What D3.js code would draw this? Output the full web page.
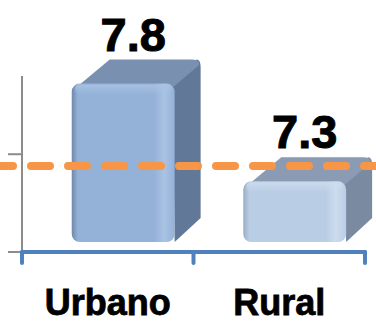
<!DOCTYPE html>
<html>
<head>
<meta charset="utf-8">
<script src="https://cdn.jsdelivr.net/npm/d3@7/dist/d3.min.js"></script>
<style>
  body { margin: 0; background: #fff; }
  svg { display: block; }
</style>
</head>
<body>
<div id="chart"></div>
<script>
// data
var categories = ["Urbano", "Rural"];
var values = [7.8, 7.3];
var valueLabels = ["7.8", "7.3"];
var referenceValue = 7.44;   // dashed orange line
var yTicks = [7.0, 7.5];

var width = 376, height = 323;

var svg = d3.select("#chart").append("svg")
    .attr("width", width)
    .attr("height", height);

// scales
var x = d3.scaleBand()
    .domain(categories)
    .range([22, 365])
    .padding(0);

var y = d3.scaleLinear()
    .domain([7.0, 7.9])
    .range([252, 76]);

var depthX = 26, depthY = 24;
var barStart = 0.29, barWidth = 0.6;

// colours per bar: front, frontDark, top, side
var palette = [
    {front: "#94b1d7", dark: "#6f88aa", light: "#a9c3e4", top: "#7990b1", side: "#627898"},
    {front: "#b9cde5", dark: "#9aaec8", light: "#cddcee", top: "#8a9bb3", side: "#7a8aa1"}
];

var defs = svg.append("defs");
palette.forEach(function(p, i) {
    var g = defs.append("linearGradient")
        .attr("id", "front" + i)
        .attr("x1", 0).attr("x2", 1).attr("y1", 0).attr("y2", 0);
    g.append("stop").attr("offset", "0%").attr("stop-color", p.dark);
    g.append("stop").attr("offset", "6%").attr("stop-color", p.front);
    g.append("stop").attr("offset", "80%").attr("stop-color", p.front);
    g.append("stop").attr("offset", "90%").attr("stop-color", p.light);
    g.append("stop").attr("offset", "100%").attr("stop-color", p.front);

    var t = defs.append("linearGradient")
        .attr("id", "bevel" + i)
        .attr("x1", 0).attr("x2", 0).attr("y1", 0).attr("y2", 1);
    t.append("stop").attr("offset", "0%").attr("stop-color", p.light).attr("stop-opacity", 0.9);
    t.append("stop").attr("offset", "100%").attr("stop-color", p.light).attr("stop-opacity", 0);
});

// y axis (gray, no labels)
svg.append("line")
    .attr("x1", 22).attr("x2", 22)
    .attr("y1", y.range()[1]).attr("y2", y(7.0))
    .attr("stroke", "#8c8c8c")
    .attr("stroke-width", 2);

svg.selectAll(".ytick")
    .data(yTicks)
    .enter().append("line")
    .attr("class", "ytick")
    .attr("x1", 8).attr("x2", 22)
    .attr("y1", d => y(d)).attr("y2", d => y(d))
    .attr("stroke", "#8c8c8c")
    .attr("stroke-width", 2);

// bars
var bars = svg.selectAll(".bar")
    .data(values)
    .enter().append("g")
    .attr("class", "bar");

var baseY = y(7.0) - 10;

bars.each(function(d, i) {
    var g = d3.select(this);
    var p = palette[i];
    var x0 = x(categories[i]) + x.bandwidth() * barStart;
    var w = x.bandwidth() * barWidth;
    var top = y(d) - 12;
    var r = 8;

    // side face
    g.append("path")
        .attr("d", "M" + (x0 + w - 2) + "," + (top + 2) +
            " L" + (x0 + w + depthX - r / 2) + "," + (top - depthY) +
            " Q" + (x0 + w + depthX) + "," + (top - depthY) + " " + (x0 + w + depthX) + "," + (top - depthY + r) +
            " L" + (x0 + w + depthX) + "," + (baseY - depthY) +
            " L" + (x0 + w) + "," + baseY + " Z")
        .attr("fill", p.side);

    // top face
    g.append("path")
        .attr("d", "M" + (x0 + r) + "," + (top + 1) +
            " L" + (x0 + depthX + r + 4) + "," + (top - depthY) +
            " L" + (x0 + w + depthX - r) + "," + (top - depthY) +
            " Q" + (x0 + w + depthX) + "," + (top - depthY) + " " + (x0 + w + depthX - 2) + "," + (top - depthY + 6) +
            " L" + (x0 + w - 2) + "," + (top + 4) + " Z")
        .attr("fill", p.top);

    // front face
    g.append("rect")
        .attr("x", x0)
        .attr("y", top)
        .attr("width", w)
        .attr("height", baseY - top)
        .attr("rx", r).attr("ry", r)
        .attr("fill", "url(#front" + i + ")");

    g.append("rect")
        .attr("x", x0 + 3)
        .attr("y", top + 1)
        .attr("width", w - 6)
        .attr("height", 10)
        .attr("rx", 5)
        .attr("fill", "url(#bevel" + i + ")");

    // value label
    g.append("text")
        .attr("x", x0 + w / 2 + 10)
        .attr("y", y(d) - 45)
        .attr("text-anchor", "middle")
        .attr("font-family", "Liberation Sans, Arial, sans-serif")
        .attr("font-weight", "bold")
        .attr("font-size", 47)
        .attr("fill", "#000")
        .attr("stroke", "#000")
        .attr("stroke-width", 1)
        .text(valueLabels[i]);
});

// x axis (blue)
svg.append("line")
    .attr("x1", x.range()[0]).attr("x2", x.range()[1])
    .attr("y1", 252).attr("y2", 252)
    .attr("stroke", "#4f81bd")
    .attr("stroke-width", 4)
    .attr("stroke-linecap", "round");

var xTickPos = categories.map(c => x(c)).concat([x.range()[1]]);
svg.selectAll(".xtick")
    .data(xTickPos)
    .enter().append("line")
    .attr("class", "xtick")
    .attr("x1", d => d).attr("x2", d => d)
    .attr("y1", 252).attr("y2", 263)
    .attr("stroke", "#4f81bd")
    .attr("stroke-width", 4)
    .attr("stroke-linecap", "round");

svg.selectAll(".xlabel")
    .data(categories)
    .enter().append("text")
    .attr("class", "xlabel")
    .attr("x", d => x(d) + x.bandwidth() / 2)
    .attr("y", 315)
    .attr("text-anchor", "middle")
    .attr("font-family", "Liberation Sans, Arial, sans-serif")
    .attr("font-weight", "bold")
    .attr("font-size", 36)
    .attr("fill", "#000")
    .attr("stroke", "#000")
    .attr("stroke-width", 0.8)
    .text(d => d);

// reference line (orange dashes)
svg.append("line")
    .attr("x1", -6).attr("x2", width + 10)
    .attr("y1", y(referenceValue)).attr("y2", y(referenceValue))
    .attr("stroke", "#f79646")
    .attr("stroke-width", 8)
    .attr("stroke-linecap", "round")
    .attr("stroke-dasharray", "19 18");
</script>
</body>
</html>
